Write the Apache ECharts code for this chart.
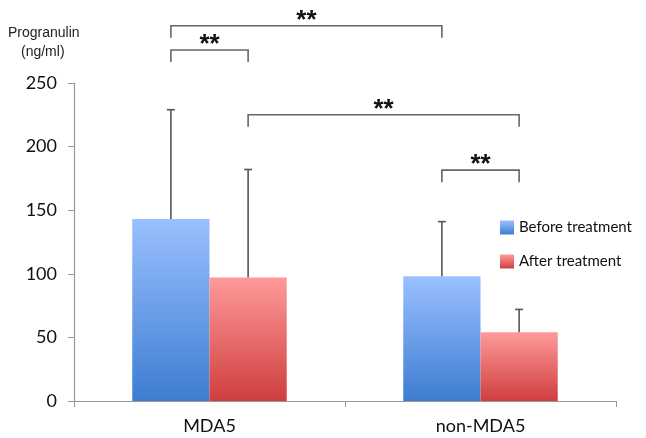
<!DOCTYPE html>
<html>
<head>
<meta charset="utf-8">
<style>
  html, body { margin: 0; padding: 0; background: #fff; }
  #chart { width: 646px; height: 438px; }
</style>
<script src="https://cdn.jsdelivr.net/npm/echarts@6/dist/echarts.min.js"></script>
</head>
<body>
<div id="chart"></div>
<script>
// Groups and measured progranulin levels (ng/ml)
const categories = ['MDA5', 'non-MDA5'];
const seriesNames = ['Before treatment', 'After treatment'];
const beforeMean = [143, 98];
const afterMean = [97, 54];
// upper end of each error bar (mean + SD)
const beforeUpper = [229, 141];
const afterUpper = [182, 72];
const yTicks = [0, 50, 100, 150, 200, 250];

// Significance brackets: [categoryIndex, seriesIndex] of each end, bracket level
const bracketFrom = [[0, 0], [0, 0], [0, 1], [1, 0]];
const bracketTo = [[1, 0], [0, 1], [1, 1], [1, 1]];
const bracketLevel = [295, 276, 225, 181.5];
const bracketLabel = ['**', '**', '**', '**'];

const CAT_GAP = 0.43;
const FONT = 'Lato, "Open Sans", sans-serif';

const blueGrad = new echarts.graphic.LinearGradient(0, 0, 0, 1, [
  { offset: 0, color: '#9ac0ff' },
  { offset: 1, color: '#3d7dd1' }
]);
const redGrad = new echarts.graphic.LinearGradient(0, 0, 0, 1, [
  { offset: 0, color: '#ff9a9a' },
  { offset: 1, color: '#cf3e3e' }
]);

// x pixel of a bar centre inside its category band
function barCenter(api, cat, s) {
  const c = api.coord([cat, 0])[0];
  const band = api.size([1, 0])[0];
  const bw = band * (1 - CAT_GAP) / 2;
  return c + (s === 0 ? -bw / 2 : bw / 2);
}

function errorSeries(sIdx, means, uppers) {
  return {
    type: 'custom',
    silent: true,
    z: 5,
    clip: false,
    data: means.map((m, i) => [i, m, uppers[i]]),
    renderItem: function (params, api) {
      const cat = api.value(0);
      const x = barCenter(api, cat, sIdx);
      const y0 = api.coord([cat, api.value(1)])[1];
      const y1 = api.coord([cat, api.value(2)])[1];
      const st = { stroke: '#555', lineWidth: 1.6 };
      return {
        type: 'group',
        children: [
          { type: 'line', shape: { x1: x, y1: y0, x2: x, y2: y1 }, style: st },
          { type: 'line', shape: { x1: x - 4, y1: y1, x2: x + 4, y2: y1 }, style: st }
        ]
      };
    }
  };
}

const bracketData = bracketFrom.map((f, i) => [f[0], f[1], bracketTo[i][0], bracketTo[i][1], bracketLevel[i]]);

const chart = echarts.init(document.getElementById('chart'), null, { renderer: 'canvas' });
chart.setOption({
  animation: false,
  backgroundColor: '#fff',
  grid: { left: 74, right: 30, top: 83, bottom: 37 },
  graphic: [
    {
      type: 'text', left: 8, top: 26,
      style: { text: 'Progranulin', font: '14px "Liberation Sans", Arial, sans-serif', fill: '#222' }
    },
    {
      type: 'text', left: 21, top: 45,
      style: { text: '(ng/ml)', font: '14px "Liberation Sans", Arial, sans-serif', fill: '#222' }
    }
  ],
  legend: {
    orient: 'vertical',
    left: 495,
    top: 215,
    itemWidth: 14,
    itemHeight: 14,
    itemGap: 19,
    icon: 'rect',
    data: seriesNames,
    textStyle: { fontFamily: FONT, fontSize: 15, color: '#111' }
  },
  xAxis: {
    type: 'category',
    data: categories,
    axisLine: { lineStyle: { color: '#999', width: 1.2 } },
    axisTick: { show: true, length: 6, lineStyle: { color: '#999' } },
    axisLabel: { fontFamily: FONT, fontSize: 18, color: '#111', margin: 16 }
  },
  yAxis: {
    type: 'value',
    min: 0,
    max: 250,
    interval: 50,
    axisLine: { show: true, lineStyle: { color: '#999', width: 1.2 } },
    axisTick: { show: true, length: 6, lineStyle: { color: '#999' } },
    splitLine: { show: false },
    axisLabel: {
      fontFamily: FONT, fontSize: 18, color: '#111', margin: 17,
      formatter: v => (yTicks.indexOf(v) >= 0 ? String(v) : '')
    }
  },
  series: [
    {
      name: seriesNames[0], type: 'bar', data: beforeMean,
      barGap: '0%', barCategoryGap: (CAT_GAP * 100) + '%',
      itemStyle: { color: blueGrad }
    },
    {
      name: seriesNames[1], type: 'bar', data: afterMean,
      itemStyle: { color: redGrad }
    },
    errorSeries(0, beforeMean, beforeUpper),
    errorSeries(1, afterMean, afterUpper),
    {
      type: 'custom',
      silent: true,
      clip: false,
      z: 6,
      data: bracketData,
      renderItem: function (params, api) {
        const xa = barCenter(api, api.value(0), api.value(1));
        const xb = barCenter(api, api.value(2), api.value(3));
        const y = api.coord([0, api.value(4)])[1];
        const leg = 12;
        const st = { stroke: '#666', lineWidth: 1.6, fill: null };
        return {
          type: 'group',
          children: [
            {
              type: 'polyline',
              shape: { points: [[xa, y + leg], [xa, y], [xb, y], [xb, y + leg]] },
              style: st
            },
            {
              type: 'text',
              style: {
                text: bracketLabel[params.dataIndex],
                x: (xa + xb) / 2, y: y + 8,
                textAlign: 'center', textVerticalAlign: 'bottom',
                font: 'bold 26px "Liberation Sans", Arial, sans-serif',
                fill: '#111'
              }
            }
          ]
        };
      }
    }
  ]
});
</script>
</body>
</html>
